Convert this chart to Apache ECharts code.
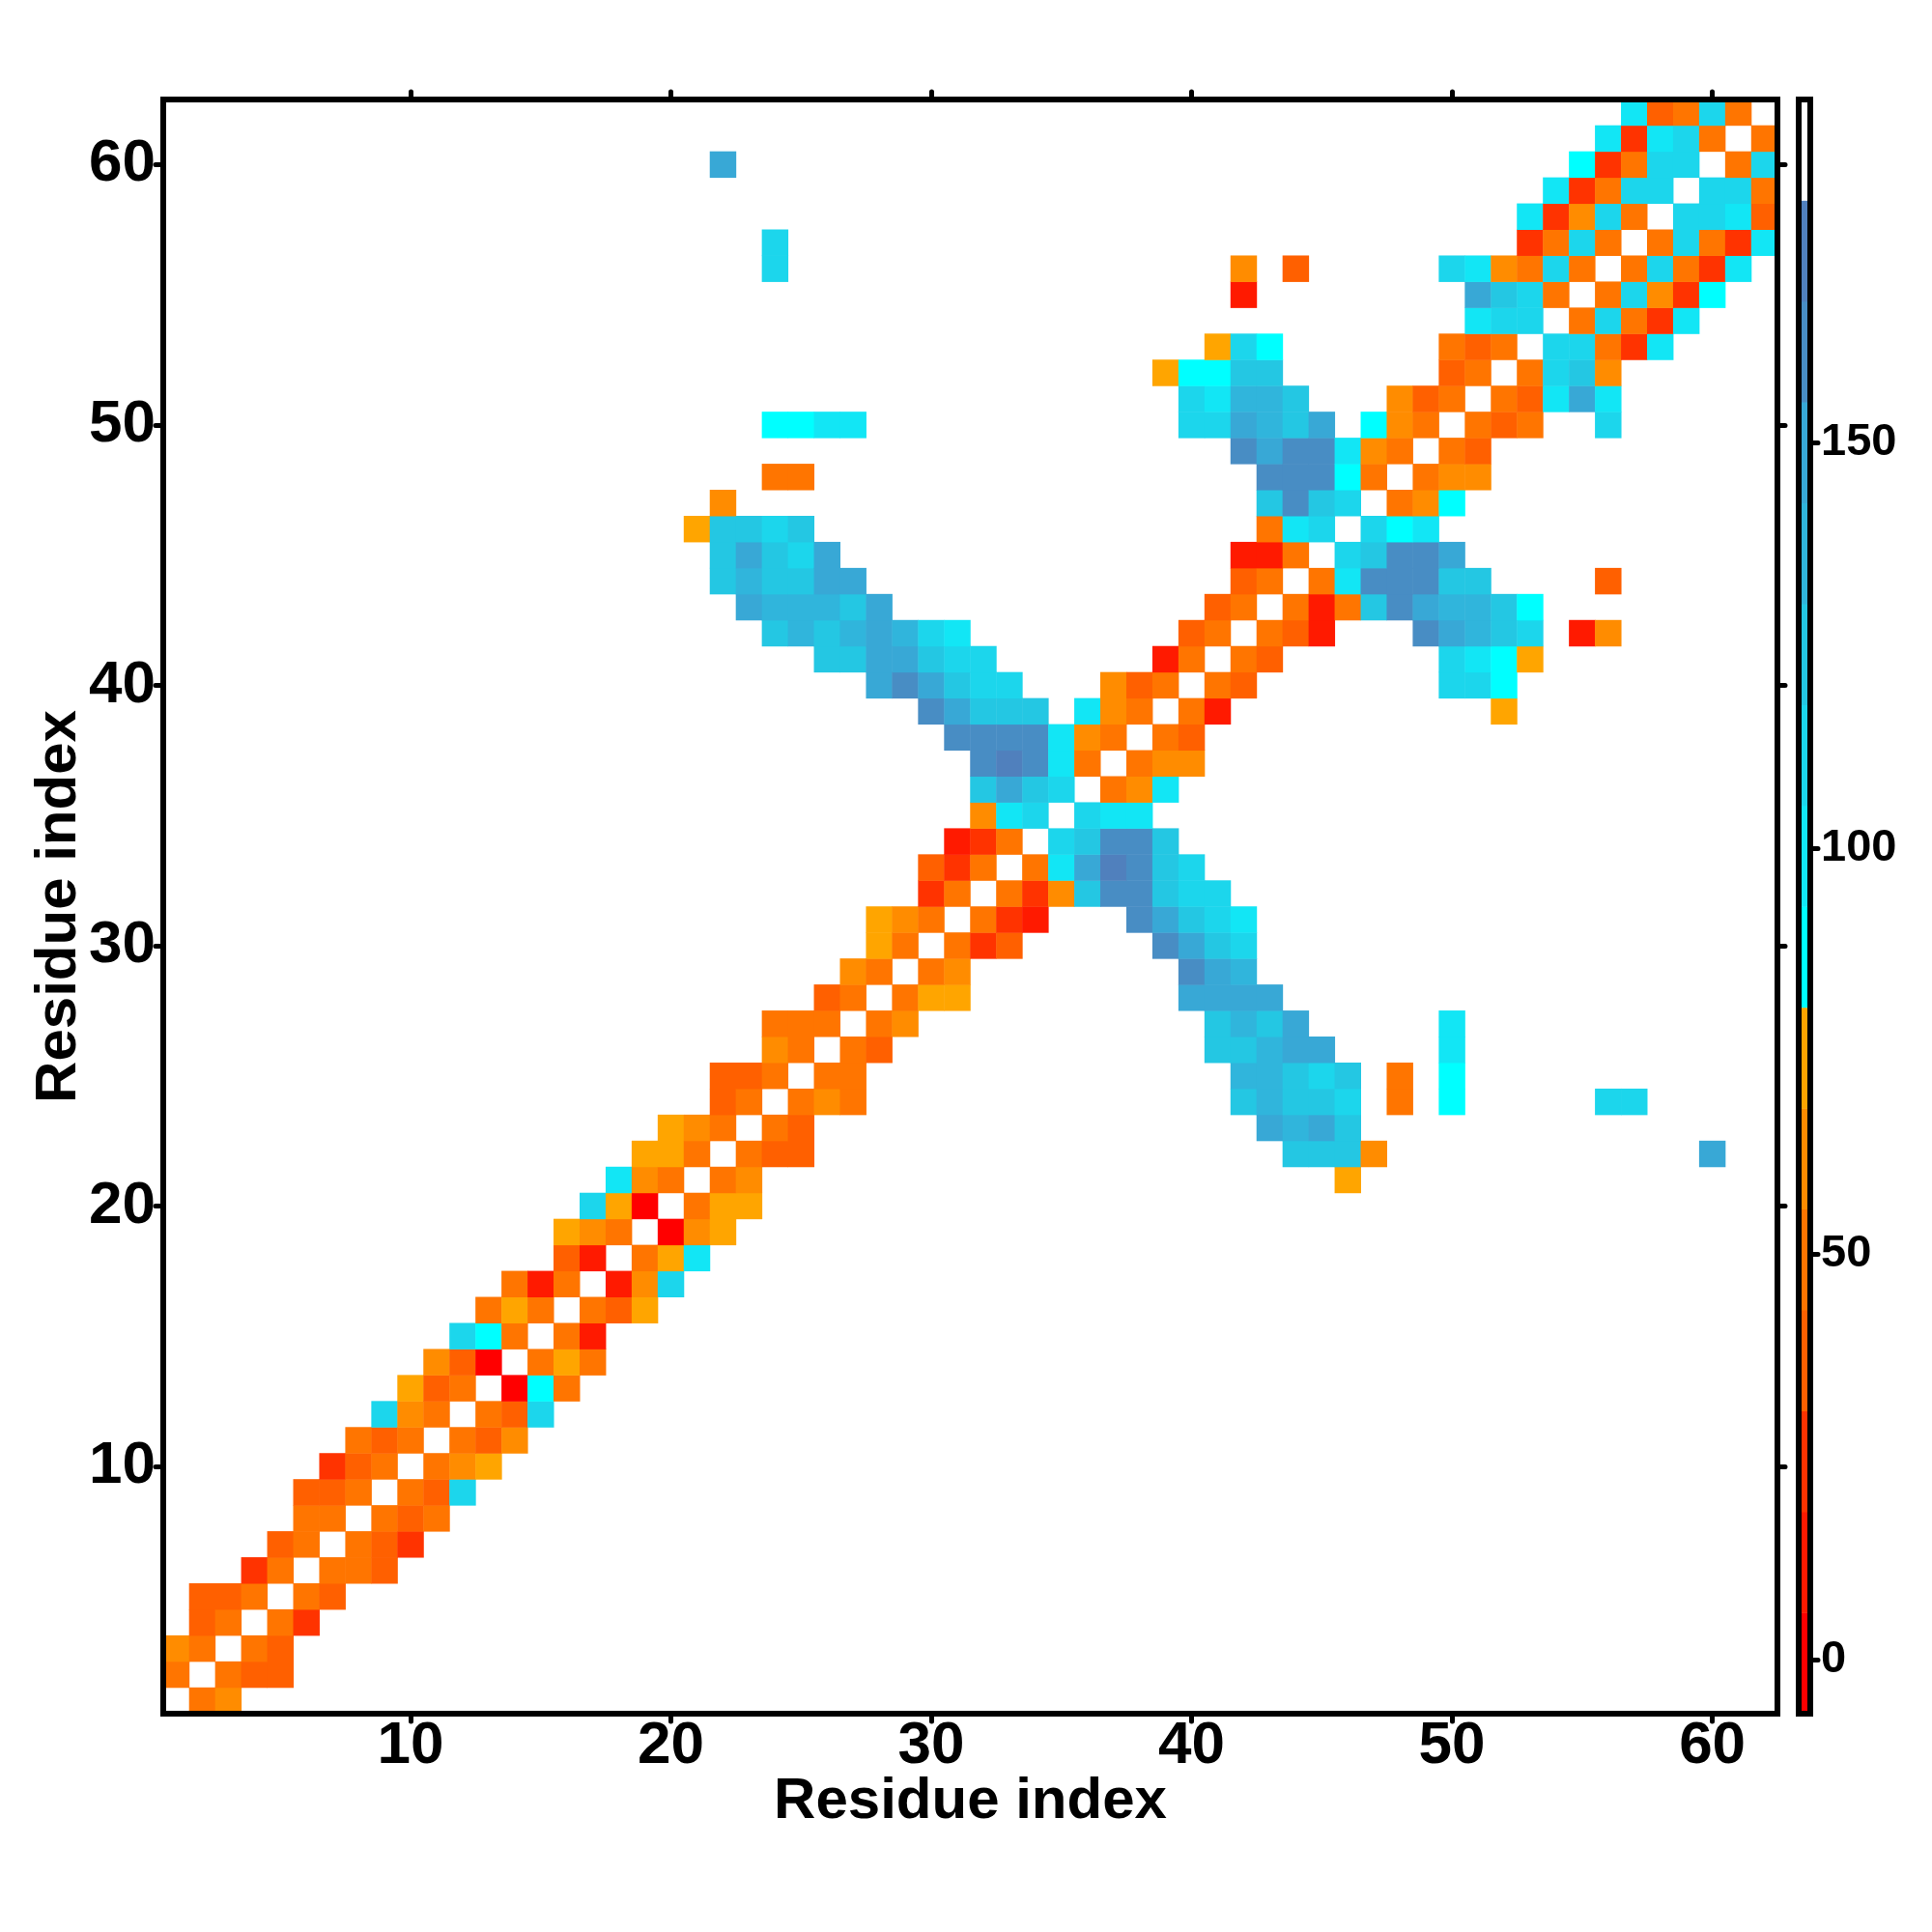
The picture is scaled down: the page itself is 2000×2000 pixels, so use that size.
<!DOCTYPE html>
<html>
<head>
<meta charset="utf-8">
<style>html,body{margin:0;padding:0;background:#fff}#c{width:2000px;height:2000px}</style>
<script src="https://cdn.jsdelivr.net/npm/echarts@6/dist/echarts.min.js"></script>
</head>
<body>
<div id="c"></div>
<script>
// Residue numbers and tick labels
const residues = Array.from({length: 62}, (_, i) => String(i + 1));
const tickResidues = [10, 20, 30, 40, 50, 60];
const colorbarTicks = [0, 50, 100, 150];

// Colour scale: 16 equal bands, the top one is white
const scaleMin = -6.67;
const scaleMax = 192.33;
const bandColors = ['#ff0000','#ff1a00','#ff3300','#ff6000','#ff7500','#ff8c00','#ffa500',
  '#00ffff','#12e6f5','#1cd6ec','#24c7e3','#30b5dc','#38a8d6','#488dc4','#5080bd','#ffffff'];
// Value read for a cell in each band (a..p)
const bandValues = [0,12,24,37,49,62,74,87,99,112,124,136,149,161,174,186];

// Upper triangle of the symmetric map: [row, firstColumn, bands letter per column, ...]
const contactRows = [
  [1, 2,'ef'],[2, 3,'edd'],[3, 4,'ed'],[4, 5,'ec'],[5, 6,'ed'],[6, 7,'eed'],[7, 8,'edc'],
  [8, 9,'ede'],[9, 10,'edj'],[10, 11,'efg'],[11, 12,'edf'],[12, 13,'edj'],[13, 14,'ahe'],
  [14, 15,'ege'],[15, 16,'eb'],[16, 17,'edg'],[17, 18,'bfj'],[18, 19,'egi'],[19, 20,'afg'],
  [20, 21,'egg'],
  [21, 22,'ef', 46,'g'],
  [22, 23,'edd', 44,'kkkf', 60,'m'],
  [23, 24,'ed', 43,'mlmk'],
  [24, 25,'efe', 42,'klkkj', 48,'e', 50,'h', 56,'jj'],
  [25, 26,'ee', 42,'llkjk', 48,'e', 50,'h'],
  [26, 27,'ed', 41,'kklmm', 50,'i'],
  [27, 28,'ef', 41,'klkm', 50,'i'],
  [28, 29,'egg', 40,'mmmm'],
  [29, 30,'ef', 40,'nml'],
  [30, 31,'ecd', 39,'nmkj'],
  [31, 32,'ecb', 38,'nmkji'],
  [32, 33,'ecfknnkjj'],
  [33, 34,'eimonkj'],
  [34, 35,'jknnk'],
  [35, 36,'jii'],
  [36, 37,'efi'],
  [37, 38,'eff'],
  [38, 39,'ed'],
  [39, 40,'eb', 52,'g'],
  [40, 41,'ed', 50,'jjh'],
  [41, 42,'ed', 50,'jihg'],
  [42, 43,'edb', 49,'nmlkj', 55,'bf'],
  [43, 44,'ebe', 47,'knmllkh'],
  [44, 45,'ei', 47,'nnnkk', 56,'d'],
  [45, 46,'jknnm'],
  [46, 47,'jhi'],
  [47, 48,'efh'],
  [48, 49,'eff'],
  [49, 50,'ed'],
  [50, 51,'ede', 56,'j'],
  [51, 52,'edimi'],
  [52, 53,'ejkf'],
  [53, 54,'jjeci'],
  [54, 55,'ejeci'],
  [55, 56,'ejfch'],
  [56, 57,'ejeci'],
  [57, 58,'ejeci'],
  [58, 59,'jjid'],
  [59, 60,'jje'],
  [60, 61,'ej'],
  [61, 62,'e']
];

const cells = [];
contactRows.forEach(rowSpec => {
  const r = rowSpec[0];
  for (let k = 1; k < rowSpec.length; k += 2) {
    const start = rowSpec[k], bands = rowSpec[k + 1];
    for (let j = 0; j < bands.length; j++) {
      const c = start + j;
      const v = bandValues[bands.charCodeAt(j) - 97];
      cells.push([c - 1, r - 1, v]);
      cells.push([r - 1, c - 1, v]);
    }
  }
});

const bandStep = (scaleMax - scaleMin) / bandColors.length;
const pieces = bandColors.map((color, i) => ({
  gte: scaleMin + i * bandStep, lt: scaleMin + (i + 1) * bandStep, color
}));
const bandNames = bandValues.map(String);
const colorbarCells = bandValues.map((v, i) => [0, i, v]);

const FONT = '"Liberation Sans", Helvetica, Arial, sans-serif';
const isTick = (i, v) => tickResidues.indexOf(Number(v)) >= 0;
const frameLine = {show: true, onZero: false, lineStyle: {color: '#000', width: 6, cap: 'square'}};
const ticks = {show: true, length: 8, alignWithLabel: true, interval: isTick,
               lineStyle: {color: '#000', width: 5, cap: 'round'}};
const tickLabels = {show: true, interval: isTick, color: '#000', fontFamily: FONT,
                    fontWeight: 'bold', fontSize: 62};
const nameText = {color: '#000', fontFamily: FONT, fontWeight: 'bold', fontSize: 60};

const option = {
  animation: false,
  backgroundColor: '#fff',
  grid: [
    {left: 169, top: 103, width: 1671, height: 1671},
    {left: 1862, top: 103, width: 12, height: 1671}
  ],
  xAxis: [
    {gridIndex: 0, z: 5, type: 'category', data: residues, position: 'bottom',
     axisLine: frameLine, axisTick: ticks, splitLine: {show: false},
     axisLabel: Object.assign({}, tickLabels, {margin: 3}),
     name: 'Residue index', nameLocation: 'middle', nameGap: 61, nameMoveOverlap: false, nameTextStyle: nameText},
    {gridIndex: 0, z: 5, type: 'category', data: residues, position: 'top',
     axisLine: frameLine, axisTick: ticks, axisLabel: {show: false}, splitLine: {show: false}},
    {gridIndex: 1, z: 5, type: 'category', data: ['bar'], position: 'bottom',
     axisLine: frameLine, axisTick: {show: false}, axisLabel: {show: false}, splitLine: {show: false}},
    {gridIndex: 1, z: 5, type: 'category', data: ['bar'], position: 'top',
     axisLine: frameLine, axisTick: {show: false}, axisLabel: {show: false}, splitLine: {show: false}}
  ],
  yAxis: [
    {gridIndex: 0, z: 5, type: 'category', data: residues, position: 'left',
     axisLine: frameLine, axisTick: ticks, splitLine: {show: false},
     axisLabel: Object.assign({}, tickLabels, {margin: 8, padding: [16, 0, 0, 0]}),
     name: 'Residue index', nameLocation: 'middle', nameGap: 78, nameMoveOverlap: false, nameTextStyle: nameText},
    {gridIndex: 0, z: 5, type: 'category', data: residues, position: 'right',
     axisLine: frameLine, axisTick: ticks, axisLabel: {show: false}, splitLine: {show: false}},
    {gridIndex: 1, z: 5, type: 'category', data: bandNames, position: 'left',
     axisLine: frameLine, axisTick: {show: false}, axisLabel: {show: false}, splitLine: {show: false}},
    {gridIndex: 1, z: 5, type: 'value', position: 'right', min: scaleMin, max: scaleMax,
     axisLine: frameLine, splitLine: {show: false},
     axisTick: {show: true, length: 8, customValues: colorbarTicks,
                lineStyle: {color: '#000', width: 5, cap: 'round'}},
     axisLabel: {show: true, customValues: colorbarTicks, margin: 11, color: '#000',
                 fontFamily: FONT, fontWeight: 'bold', fontSize: 47, showMinLabel: true, showMaxLabel: true}}
  ],
  visualMap: {type: 'piecewise', show: false, dimension: 2, seriesIndex: [0, 1], pieces},
  series: [
    {type: 'heatmap', xAxisIndex: 0, yAxisIndex: 0, data: cells, progressive: 0,
     emphasis: {disabled: true}, itemStyle: {borderWidth: 0}},
    {type: 'heatmap', xAxisIndex: 2, yAxisIndex: 2, data: colorbarCells, progressive: 0,
     emphasis: {disabled: true}, itemStyle: {borderWidth: 0}}
  ]
};
echarts.init(document.getElementById('c'), null, {renderer: 'canvas'}).setOption(option);
</script>
</body>
</html>
